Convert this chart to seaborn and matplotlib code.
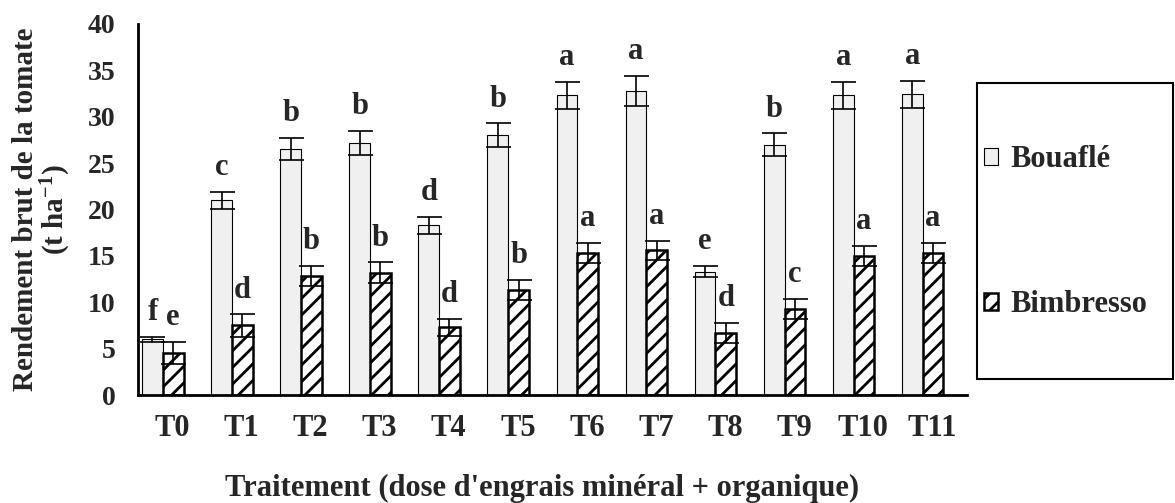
import numpy as np
import pandas as pd
import matplotlib
matplotlib.use("Agg")
import matplotlib.pyplot as plt
from matplotlib.patches import Rectangle
import seaborn as sns

# ─── DATA ─────────────────────────────────────────────────
treatments = ['T0', 'T1', 'T2', 'T3', 'T4', 'T5', 'T6', 'T7', 'T8', 'T9', 'T10', 'T11']
sites = ['Bouaflé', 'Bimbresso']

bouafle = [6.0, 21.0, 26.5, 27.2, 18.3, 28.0, 32.3, 32.8, 13.3, 27.0, 32.3, 32.4]
bimbresso = [4.5, 7.5, 12.8, 13.2, 7.3, 11.3, 15.3, 15.6, 6.7, 9.3, 15.0, 15.3]

bouafle_err = [0.3, 0.9, 1.2, 1.3, 0.9, 1.3, 1.5, 1.6, 0.6, 1.2, 1.5, 1.5]
bimbresso_err = [1.2, 1.2, 1.1, 1.1, 0.9, 1.1, 1.1, 1.0, 1.1, 1.1, 1.1, 1.1]

bouafle_letters = ['f', 'c', 'b', 'b', 'd', 'b', 'a', 'a', 'e', 'b', 'a', 'a']
bimbresso_letters = ['e', 'd', 'b', 'b', 'd', 'b', 'a', 'a', 'd', 'c', 'a', 'a']

df = pd.DataFrame({
    'trt': treatments * 2,
    'site': [sites[0]] * len(treatments) + [sites[1]] * len(treatments),
    'val': bouafle + bimbresso,
})

# ─── STYLE ────────────────────────────────────────────────
sns.set_style('white')
plt.rcParams['font.family'] = ['Liberation Serif', 'DejaVu Serif']
plt.rcParams['font.weight'] = 'bold'
plt.rcParams['mathtext.fontset'] = 'custom'
plt.rcParams['mathtext.rm'] = 'Liberation Serif:bold'
plt.rcParams['mathtext.default'] = 'rm'
plt.rcParams['hatch.linewidth'] = 2.0

fig = plt.figure(figsize=(11.75, 5.03), dpi=100)
ax = fig.add_axes([0.1174, 0.2147, 0.7055, 0.7376])

sns.barplot(data=df, x='trt', y='val', hue='site', order=treatments,
            hue_order=sites, palette=['#f0f0f0', 'white'], width=0.6,
            ax=ax, legend=False)

# bar styling
for p in ax.containers[0]:
    p.set_edgecolor('black')
    p.set_linewidth(0.8)
for p in ax.containers[1]:
    p.set_edgecolor('black')
    p.set_linewidth(1.8)
    p.set_hatch('//')

# error bars + letters
for cont, err, letters in zip(ax.containers,
                              [bouafle_err, bimbresso_err],
                              [bouafle_letters, bimbresso_letters]):
    xs = [p.get_x() + p.get_width() / 2 for p in cont]
    hs = [p.get_height() for p in cont]
    ax.errorbar(xs, hs, yerr=err, fmt='none', ecolor='black',
                elinewidth=1.2, capsize=9, capthick=1.2, zorder=5)
    for x, h, e, lab in zip(xs, hs, err, letters):
        ax.annotate(lab, (x, h + e), xytext=(0, 7), textcoords='offset points',
                    ha='center', va='bottom', fontsize=22, fontweight='bold')

# axes
n = len(treatments)
ax.set_xlim(-0.36, n - 0.36)
ax.set_ylim(0, 40)
ax.set_yticks(range(0, 41, 5))
ax.set_xticks(np.arange(n) + 0.14)
ax.set_xticklabels(treatments)
ax.set_xticks(np.arange(n + 1) - 0.36, minor=True)
ax.tick_params(axis='x', which='major', length=0, pad=14, labelsize=22)
ax.tick_params(axis='x', which='minor', length=6, width=1.2, direction='out')
ax.tick_params(axis='y', length=8, width=1.2, direction='out', labelsize=20, pad=8)
for lab in ax.get_xticklabels() + ax.get_yticklabels():
    lab.set_fontweight('bold')

for s in ['top', 'right']:
    ax.spines[s].set_visible(False)
for s in ['left', 'bottom']:
    ax.spines[s].set_linewidth(2)
    ax.spines[s].set_color('black')

ax.set_xlabel("Traitement (dose d'engrais minéral + organique)",
              fontsize=22, fontweight='bold')
ax.xaxis.set_label_coords(0.487, -0.214)
ax.set_ylabel('Rendement brut de la tomate\n(t ha$^{-1}$)',
              fontsize=21, fontweight='bold', linespacing=1.0)
ax.yaxis.set_label_coords(-0.078, 0.5)

# legend in a box to the right
fig.add_artist(Rectangle((0.8315, 0.2465), 0.1668, 0.5885, transform=fig.transFigure,
                         facecolor='white', edgecolor='black', linewidth=1.5))
leg = fig.legend(handles=[ax.containers[0][0], ax.containers[1][0]], labels=sites,
                 loc='upper left', bbox_to_anchor=(0.8377, 0.7110), frameon=False,
                 fontsize=22, labelspacing=3.8, handlelength=0.45, handleheight=0.45,
                 handletextpad=0.4, borderpad=0, borderaxespad=0)
for t in leg.get_texts():
    t.set_fontweight('bold')

fig.savefig('out.png', dpi=100)
